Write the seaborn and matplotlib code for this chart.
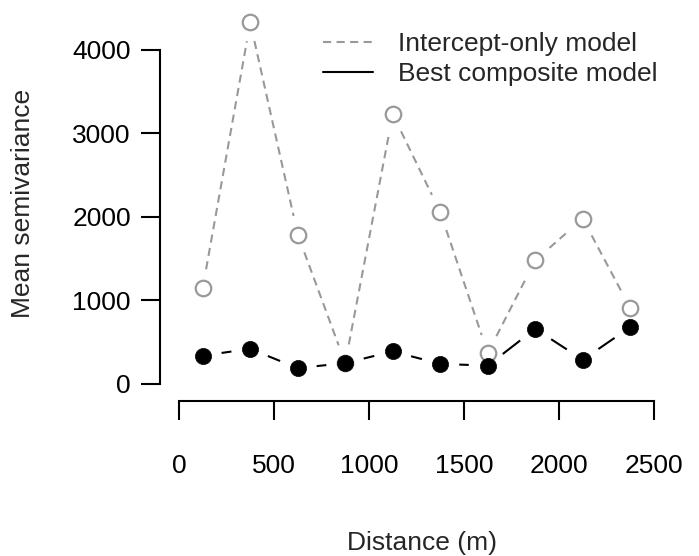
import matplotlib
matplotlib.use("Agg")
import matplotlib.pyplot as plt
from matplotlib.lines import Line2D
import seaborn as sns
import pandas as pd
import numpy as np

# Данные
distance = [125, 375, 625, 875, 1125, 1375, 1625, 1875, 2125, 2375]
intercept_only = [1150, 4330, 1790, 250, 3230, 2060, 370, 1480, 1980, 910]
best_composite = [340, 420, 190, 250, 390, 240, 220, 660, 290, 680]
labels = ["Intercept-only model", "Best composite model"]

df = pd.DataFrame({"distance": distance,
                   "intercept": intercept_only,
                   "composite": best_composite})

sns.set_style("ticks")
plt.rcParams['font.family'] = ['Liberation Sans', 'DejaVu Sans']
FS = 19

fig = plt.figure(figsize=(6.99, 5.56), dpi=100)
# область графика в пикселях: x 160..680, y 10..401
ax = fig.add_axes([160 / 699, 1 - 401 / 556, 520 / 699, 391 / 556])
ax.set_xlim(-100, 2637)
ax.set_ylim(-204, 4479)

grey = "#999999"
grey_dash = (0, (3.9, 2.6))
black_dash = (0, (11, 4))
LW = 1.5


def gapped_segments(xs, ys, r=19):
    # отрезки между точками, укороченные на r пикселей с каждой стороны (type="b" в R)
    pts = ax.transData.transform(np.column_stack([xs, ys]))
    inv = ax.transData.inverted()
    rows = []
    for i in range(len(pts) - 1):
        p0, p1 = pts[i], pts[i + 1]
        d = p1 - p0
        L = np.hypot(*d)
        if L <= 2 * r:
            continue
        u = d / L
        a, b = inv.transform([p0 + u * r, p1 - u * r])
        rows.append((a[0], a[1], i))
        rows.append((b[0], b[1], i))
    return pd.DataFrame(rows, columns=["x", "y", "seg"])


seg_grey = gapped_segments(df["distance"], df["intercept"])
seg_black = gapped_segments(df["distance"], df["composite"])

sns.lineplot(data=seg_grey, x="x", y="y", units="seg", estimator=None, sort=False,
             ax=ax, color=grey, linestyle=grey_dash, linewidth=LW)
sns.lineplot(data=seg_black, x="x", y="y", units="seg", estimator=None, sort=False,
             ax=ax, color="black", linestyle=black_dash, linewidth=LW)
sns.scatterplot(data=df, x="distance", y="intercept", ax=ax, facecolor="white",
                edgecolor=grey, s=125, linewidth=1.6, zorder=5)
sns.scatterplot(data=df, x="distance", y="composite", ax=ax, color="black",
                edgecolor="black", s=135, linewidth=0.5, zorder=6)

ax.set_xlim(-100, 2637)
ax.set_ylim(-204, 4479)
ax.set_xticks([0, 500, 1000, 1500, 2000, 2500])
ax.set_yticks([0, 1000, 2000, 3000, 4000])
ax.set_xlabel("")
ax.set_ylabel("")

for s in ["top", "right"]:
    ax.spines[s].set_visible(False)
ax.spines["left"].set_bounds(0, 4000)
ax.spines["bottom"].set_bounds(0, 2500)
for s in ["left", "bottom"]:
    ax.spines[s].set_linewidth(1.5)
    ax.spines[s].set_color("black")
ax.tick_params(axis="both", length=14, width=1.5, labelsize=FS, colors="black")
ax.tick_params(axis="x", pad=24)
ax.tick_params(axis="y", pad=7)

handles = [Line2D([], [], color=grey, linestyle=grey_dash, linewidth=LW),
           Line2D([], [], color="black", linestyle="-", linewidth=LW)]
ax.legend(handles, labels, loc="upper left", frameon=False, fontsize=FS,
          handlelength=1.9, handletextpad=0.95, labelspacing=0.22,
          borderpad=0, borderaxespad=0,
          bbox_to_anchor=(323 / 699, 1 - 32 / 556), bbox_transform=fig.transFigure)

fig.text(422 / 699, 1 - 543 / 556, "Distance (m)", ha="center", va="center", fontsize=FS)
fig.text(23 / 699, 1 - 203 / 556, "Mean semivariance", ha="center", va="center",
         rotation=90, fontsize=FS)

fig.savefig("out.png", dpi=100)
